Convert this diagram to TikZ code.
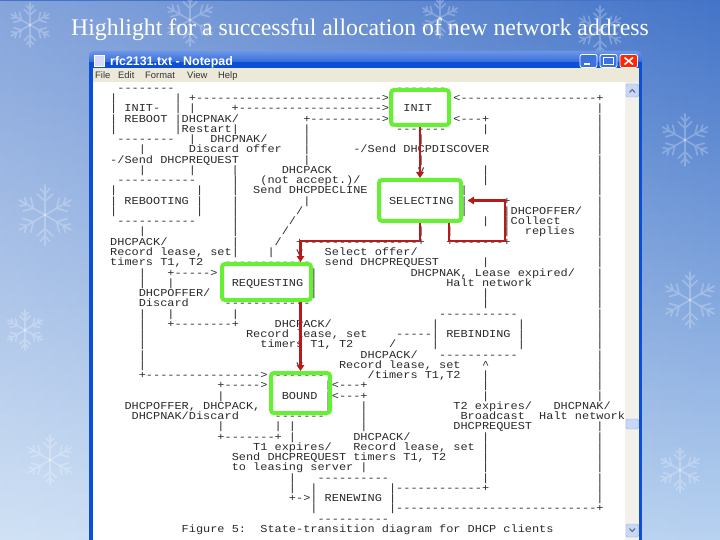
\documentclass[tikz,border=0pt]{standalone}
\usepackage{fontspec}
\newfontfamily\asc{Liberation Mono}[FakeStretch=1.12]
\newfontfamily\tms{Liberation Serif}
\newfontfamily\uisf{Liberation Sans}
\usetikzlibrary{arrows.meta,fadings}
\definecolor{gcol}{HTML}{66F033}
\definecolor{rcol}{HTML}{B81A1A}
\definecolor{txt}{HTML}{2A2A2A}
\definecolor{xpblue}{HTML}{0B4FD6}
\definecolor{menubg}{HTML}{ECE9D8}
\definecolor{bgtop}{HTML}{4474C8}
\definecolor{bgbot}{HTML}{B8D2F0}
\definecolor{sbtrack}{HTML}{F3F1EC}
\definecolor{sbbtn}{HTML}{C6D7FA}
\ExplSyntaxOn
\cs_new:Npn \DS #1 { \prg_replicate:nn {#1} {-} }
\ExplSyntaxOff
\newlength\cw
\setlength\cw{7.15pt}
\newcommand\SP[1]{\hspace*{#1\cw}}
\newcommand\AL[2]{\node[asc] (l#1) at (110,{91.5+10.25*#1}) {#2};}
\tikzset{
  asc/.style={anchor=base west, inner sep=0pt, text=txt, text height=7pt, text depth=2pt,
    font=\asc\fontsize{10.64}{10.25}\selectfont\frenchspacing},
  gbox/.style={draw=gcol, line width=4pt, rounded corners=3pt, inner sep=0pt},
  rarr/.style={draw=rcol, line width=2.2pt, -{Triangle[length=6pt,width=7.5pt]}},
  flake/.pic={\foreach \a in {0,60,...,300}{\draw[rotate=\a] (0,0)--(0,10) (0,4.5)--(2.6,7) (0,4.5)--(-2.6,7) (0,7)--(1.6,8.8) (0,7)--(-1.6,8.8);}},
  fl/.style={white, line width=1.6pt, line cap=round, opacity=0.25},
  menu/.style={anchor=base west, inner sep=0pt, text=black!80, font=\uisf\fontsize{9.4}{10}\selectfont}
}
\begin{document}
\begin{tikzpicture}[x=1pt,y=-1pt]
\useasboundingbox (0,0) rectangle (720,540);
% background
\shade[top color=bgtop, bottom color=bgbot] (0,0) rectangle (720,540);
\fill[white, opacity=0.35, path fading=east] (0,0) rectangle (720,540);
\pic[fl, scale=2.2] at (30,25) {flake};
\pic[fl, scale=2.6] at (190,20) {flake};
\pic[fl, scale=2.0] at (440,18) {flake};
\pic[fl, scale=2.4] at (600,30) {flake};
\pic[fl, scale=3.0] at (45,215) {flake};
\pic[fl, scale=2.0] at (25,330) {flake};
\pic[fl, scale=2.5] at (50,460) {flake};
\pic[fl, scale=2.6] at (685,140) {flake};
\pic[fl, scale=2.8] at (690,300) {flake};
\pic[fl, scale=2.2] at (680,470) {flake};
% title
\node[font=\tms\fontsize{23.8}{28}\selectfont, text=white, anchor=base] (title) at (360,36) {Highlight for a successful allocation of new network address};
% window
\fill[xpblue] (89,58) rectangle (642,545);
\shade[top color=xpblue!60!white, bottom color=xpblue, rounded corners=5pt] (89,51) rectangle (642,70);
\fill[xpblue] (89,62) rectangle (642,68);
\node[anchor=base west, inner sep=0pt, text=white, font=\uisf\bfseries\fontsize{12.4}{13}\selectfont] (wtitle) at (110,65.5) {rfc2131.txt - Notepad};
\fill[white!85!blue, draw=white] (94,55.5) rectangle (104,66);
% buttons
\draw[white, line width=0.8pt, fill=xpblue!80!white, rounded corners=2pt] (580,54.5) rectangle (597,67.5);
\fill[white] (584,63) rectangle (590,65);
\draw[white, line width=0.8pt, fill=xpblue!80!white, rounded corners=2pt] (600,54.5) rectangle (617,67.5);
\draw[white, line width=1.2pt] (603.5,57.5) rectangle (613.5,64.5);
\draw[white, line width=0.8pt, fill=red!70!orange, rounded corners=2pt] (620,54.5) rectangle (637.5,67.5);
\draw[white, line width=1.6pt] (624.5,57.5) -- (633,64.5) (633,57.5) -- (624.5,64.5);
% menu bar
\fill[menubg] (93,68) rectangle (639,82);
\node[menu] (mfile) at (95,78.5) {File};
\node[menu] (medit) at (118,78.5) {Edit};
\node[menu] (mformat) at (145,78.5) {Format};
\node[menu] (mview) at (187,78.5) {View};
\node[menu] (mhelp) at (218,78.5) {Help};
% text area and scrollbar
\fill[white] (93,82) rectangle (625,545);
\fill[sbtrack] (625,82) rectangle (639,545);
\draw[sbbtn!80!black, fill=sbbtn, rounded corners=1.5pt] (626,84) rectangle (638.5,97);
\draw[black!60, line width=1pt] (629.5,92.5) -- (632.2,89.5) -- (635,92.5);
\draw[sbbtn!80!black, fill=sbbtn, rounded corners=1.5pt] (626,419) rectangle (638.5,429);
\draw[sbbtn!80!black, fill=sbbtn, rounded corners=1.5pt] (626,524) rectangle (638.5,537);
\draw[black!60, line width=1pt] (629.5,528.5) -- (632.2,531.5) -- (635,528.5);
% ASCII art
\AL{0}{\SP{1}\DS{8}\SP{31}\DS{7}}
\AL{1}{|\SP{8}|\SP{1}+\DS{26}>|\SP{7}|<\DS{19}+}
\AL{2}{|\SP{1}INIT-\SP{2}|\SP{1}|\SP{5}+\DS{20}>|\SP{1}INIT\SP{2}|\SP{20}|}
\AL{3}{|\SP{1}REBOOT\SP{1}|DHCPNAK/\SP{9}+\DS{10}>|\SP{7}|<\DS{3}+\SP{15}|}
\AL{4}{|\SP{8}|Restart|\SP{9}|\SP{12}\DS{7}\SP{5}|\SP{15}|}
\AL{5}{\SP{1}\DS{8}\SP{2}|\SP{2}DHCPNAK/\SP{5}|\SP{15}|\SP{24}|}
\AL{6}{\SP{4}|\SP{6}Discard offer\SP{3}|\SP{6}-/Send DHCPDISCOVER\SP{15}|}
\AL{7}{-/Send DHCPREQUEST\SP{9}|\SP{15}|\SP{24}|}
\AL{8}{\SP{4}|\SP{6}|\SP{5}|\SP{6}DHCPACK\SP{12}v\SP{8}|\SP{15}|}
\AL{9}{\SP{1}\DS{11}\SP{5}|\SP{3}(not accept.)/\SP{3}\DS{11}\SP{3}|\SP{15}|}
\AL{10}{|\SP{11}|\SP{4}|\SP{2}Send DHCPDECLINE\SP{1}|\SP{11}|\SP{18}|}
\AL{11}{|\SP{1}REBOOTING\SP{1}|\SP{4}|\SP{9}|\SP{9}|\SP{1}SELECTING\SP{1}|<\DS{4}+\SP{12}|}
\AL{12}{|\SP{11}|\SP{4}|\SP{8}/\SP{10}|\SP{11}|\SP{5}|DHCPOFFER/\SP{2}|}
\AL{13}{\SP{1}\DS{11}\SP{5}|\SP{7}/\SP{12}\DS{11}\SP{3}|\SP{2}|Collect\SP{5}|}
\AL{14}{\SP{4}|\SP{12}|\SP{6}/\SP{18}|\SP{3}|\SP{7}|\SP{2}replies\SP{3}|}
\AL{15}{DHCPACK/\SP{9}|\SP{5}/\SP{2}+\DS{16}+\SP{3}+\DS{7}+\SP{12}|}
\AL{16}{Record lease, set|\SP{4}|\SP{3}v\SP{3}Select offer/\SP{25}|}
\AL{17}{timers T1, T2\SP{3}\DS{12}\SP{2}send DHCPREQUEST\SP{6}|\SP{15}|}
\AL{18}{\SP{4}|\SP{3}+\DS{5}>|\SP{12}|\SP{13}DHCPNAK, Lease expired/\SP{3}|}
\AL{19}{\SP{4}|\SP{3}|\SP{6}|\SP{1}REQUESTING\SP{1}|\SP{18}Halt network\SP{9}|}
\AL{20}{\SP{4}DHCPOFFER/\SP{1}|\SP{12}|\SP{23}|\SP{15}|}
\AL{21}{\SP{4}Discard\SP{5}\DS{12}\SP{24}|\SP{15}|}
\AL{22}{\SP{4}|\SP{3}|\SP{8}|\SP{8}|\SP{19}\DS{11}\SP{11}|}
\AL{23}{\SP{4}|\SP{3}+\DS{8}+\SP{5}DHCPACK/\SP{14}|\SP{11}|\SP{10}|}
\AL{24}{\SP{4}|\SP{14}Record lease, set\SP{4}\DS{5}|\SP{1}REBINDING\SP{1}|\SP{10}|}
\AL{25}{\SP{4}|\SP{16}timers T1, T2\SP{5}/\SP{5}|\SP{11}|\SP{10}|}
\AL{26}{\SP{4}|\SP{21}|\SP{8}DHCPACK/\SP{3}\DS{11}\SP{11}|}
\AL{27}{\SP{4}|\SP{21}v\SP{5}Record lease, set\SP{3}\textasciicircum\SP{15}|}
\AL{28}{\SP{4}+\DS{16}>\SP{1}\DS{7}\SP{6}/timers T1,T2\SP{3}|\SP{15}|}
\AL{29}{\SP{15}+\DS{5}>|\SP{7}|<\DS{3}+\SP{16}|\SP{15}|}
\AL{30}{\SP{15}|\SP{6}|\SP{1}BOUND\SP{1}|<\DS{3}+\SP{16}|\SP{15}|}
\AL{31}{\SP{2}DHCPOFFER, DHCPACK,\SP{1}|\SP{7}|\SP{4}|\SP{12}T2 expires/\SP{3}DHCPNAK/}
\AL{32}{\SP{3}DHCPNAK/Discard\SP{5}\DS{7}\SP{5}|\SP{13}Broadcast\SP{2}Halt network}
\AL{33}{\SP{15}|\SP{7}|\SP{1}|\SP{9}|\SP{12}DHCPREQUEST\SP{9}|}
\AL{34}{\SP{15}+\DS{7}+\SP{1}|\SP{8}DHCPACK/\SP{10}|\SP{15}|}
\AL{35}{\SP{20}T1 expires/\SP{3}Record lease, set\SP{1}|\SP{15}|}
\AL{36}{\SP{17}Send DHCPREQUEST\SP{1}timers T1, T2\SP{5}|\SP{15}|}
\AL{37}{\SP{17}to leasing server\SP{1}|\SP{16}|\SP{15}|}
\AL{38}{\SP{25}|\SP{3}\DS{10}\SP{13}|\SP{15}|}
\AL{39}{\SP{25}|\SP{2}|\SP{10}|\DS{12}+\SP{15}|}
\AL{40}{\SP{25}+->|\SP{1}RENEWING\SP{1}|\SP{28}|}
\AL{41}{\SP{28}|\SP{10}|\DS{28}+}
\AL{42}{\SP{29}\DS{10}}
\AL{43}{\SP{10}Figure 5:\SP{2}State-transition diagram for DHCP clients}
% highlight boxes
\node[gbox, minimum width=58pt, minimum height=35pt] (init) at (420,107.5) {};
\node[gbox, minimum width=82pt, minimum height=41pt] (selecting) at (420,200.5) {};
\node[gbox, minimum width=89pt, minimum height=36pt] (requesting) at (266.5,282) {};
\node[gbox, minimum width=59pt, minimum height=40pt] (bound) at (300.5,393) {};
% red arrows
\coordinate (loopc) at (505,241);
\draw[rarr] (init.south) -- (selecting.north);
\draw[rarr] (selecting.south) -- ++(0,18) -| (bound.north |- requesting.north);
\draw[rarr] ([xshift=29pt]selecting.south) |- (loopc) |- ([xshift=5pt]selecting.east);
\draw[rarr] (bound.north |- requesting.south) -- (bound.north);
\end{tikzpicture}
\end{document}
